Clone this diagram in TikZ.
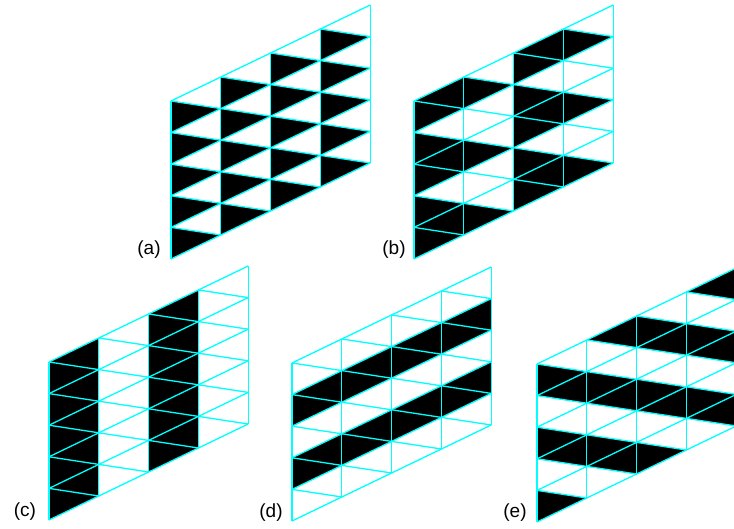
\documentclass[tikz,border=0pt]{standalone}
\usepackage{fontspec}
\setmainfont{Liberation Sans}
\definecolor{gridcyan}{RGB}{0,255,255}
\tikzset{
  gridline/.style={draw=gridcyan, line width=1.3pt},
  lbl/.style={font=\fontsize{19}{22}\selectfont, inner sep=0pt},
  lattice/.style={shift={#1}, x={(49.8pt,24pt)}, y={(0pt,31.6pt)}}
}
\newcommand\blackL[2]{\fill[black] (#1,#2+1) -- (#1,#2) -- (#1+1,#2) -- cycle;}
\newcommand\blackU[2]{\fill[black] (#1,#2+1) -- (#1+1,#2+1) -- (#1+1,#2) -- cycle;}
\newcommand\latticelines{%
  \foreach \i in {0,...,4} {\draw[gridline] (\i,0) -- (\i,5);}
  \foreach \j in {0,...,5} {\draw[gridline] (0,\j) -- (4,\j);}
  \foreach \i in {0,...,3} {\foreach \j in {0,...,4} {\draw[gridline] (\i,\j+1) -- (\i+1,\j);}}
}
\begin{document}
\begin{tikzpicture}[x=1pt,y=1pt]
\useasboundingbox (0,0) rectangle (734,528);
\clip (0,0) rectangle (734,528);
% (a)
\begin{scope}[lattice={(171,269)}]
  \foreach \i in {0,...,3} {\foreach \j in {0,...,4} {\blackL{\i}{\j}}}
  \latticelines
\end{scope}
% (b)
\begin{scope}[lattice={(414,269)}]
  \foreach \i in {0,...,3} {\foreach \j in {0,...,4} {%
    \ifodd\i\relax
      \ifodd\j\relax\else\blackL{\i}{\j}\fi
    \else
      \blackL{\i}{\j}%
      \ifodd\j\relax\else\blackU{\i}{\j}\fi
    \fi}}
  \latticelines
\end{scope}
% (c)
\begin{scope}[lattice={(49,8)}]
  \foreach \i in {0,2} {\foreach \j in {0,...,4} {\blackL{\i}{\j}\blackU{\i}{\j}}}
  \latticelines
\end{scope}
% (d)
\begin{scope}[lattice={(292,7)}]
  \foreach \i in {0,...,3} {\foreach \j in {1,3} {\blackL{\i}{\j}\blackU{\i}{\j}}}
  \latticelines
\end{scope}
% (e)
\begin{scope}[lattice={(537,6)}]
  \foreach \i in {0,...,3} {\foreach \j in {0,...,4} {%
    \pgfmathtruncatemacro\k{\i+\j}%
    \ifodd\k\relax\blackU{\i}{\j}\else\blackL{\i}{\j}\fi}}
  \latticelines
\end{scope}
\node[lbl] (la) at (149,278) {(a)};
\node[lbl] (lb) at (394,278) {(b)};
\node[lbl] (lc) at (25,16) {(c)};
\node[lbl] (ld) at (271,15) {(d)};
\node[lbl] (le) at (515,15) {(e)};
\end{tikzpicture}
\end{document}
